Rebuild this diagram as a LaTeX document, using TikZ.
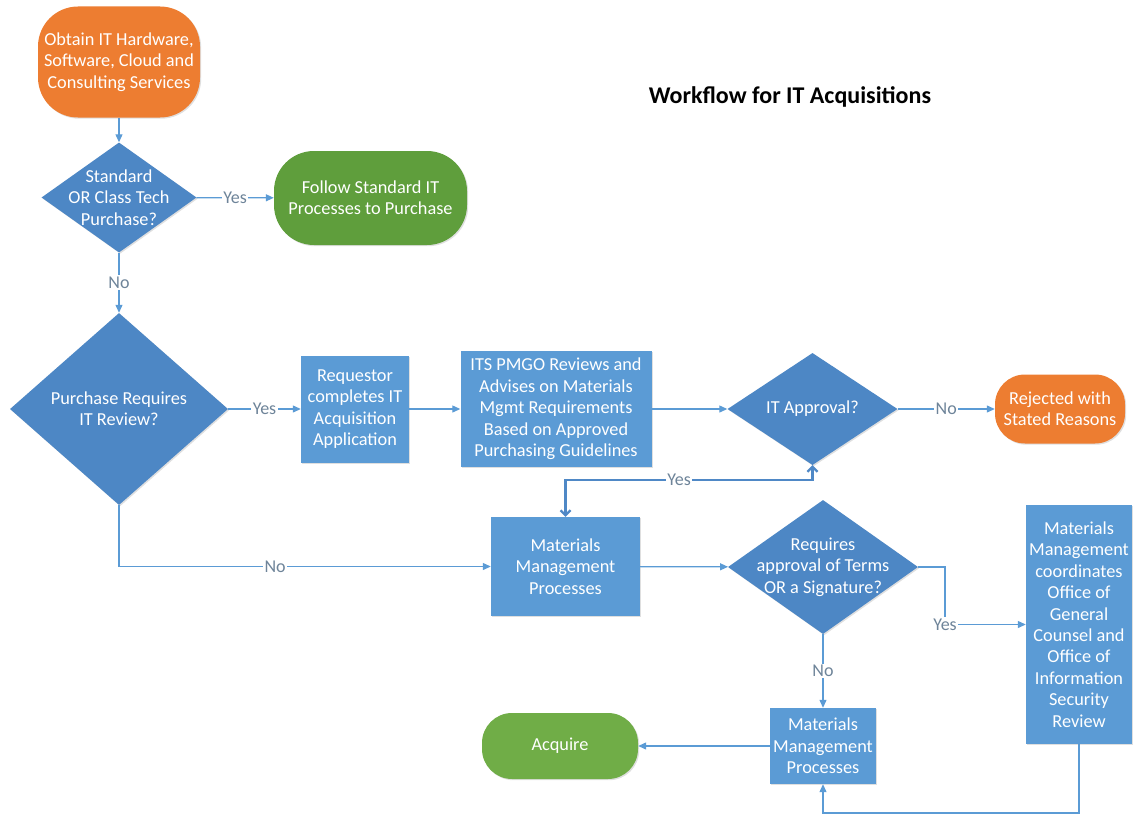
\documentclass[tikz,border=0pt]{standalone}
\usepackage{fontspec}
\setmainfont{Carlito}
\usetikzlibrary{shapes.geometric,arrows.meta,shadows}
\definecolor{termorange}{HTML}{ED7D31}
\definecolor{termgreen}{HTML}{5F9E3C}
\definecolor{acqgreen}{HTML}{70AD47}
\definecolor{boxblue}{HTML}{5B9BD5}
\definecolor{decblue}{HTML}{4D87C5}
\definecolor{lineblue}{HTML}{5B9BD5}
\definecolor{loopblue}{HTML}{4F88C6}
\definecolor{lblgray}{HTML}{6E8499}
\begin{document}
\begin{tikzpicture}[x=1pt,y=-1pt,
    every node/.style={font=\fontsize{18.3}{21.4}\selectfont},
    sz/.style 2 args={minimum width=#1pt,minimum height=#2pt},
    shade/.style={drop shadow={shadow xshift=1.2pt,shadow yshift=-1.2pt,opacity=.25}},
    box/.style={rectangle,fill=boxblue,text=white,align=center,inner sep=0pt,shade},
    term/.style={rectangle,text=white,align=center,inner sep=0pt,shade},
    decision/.style={diamond,fill=decblue,inner sep=0pt,shade},
    dtext/.style={text=white,align=center,inner sep=0pt},
    lbl/.style={fill=white,inner sep=1.5pt,text=lblgray,font=\fontsize{18}{20}\selectfont},
    flow/.style={draw=lineblue,line width=1.2pt,-{Triangle[length=8pt,width=7pt]}},
    yesloop/.style={draw=loopblue,line width=2.2pt,
      {Straight Barb[length=5pt,width=10pt]}-{Straight Barb[length=5pt,width=10pt]}}]
  \useasboundingbox (0,0) rectangle (1133,816);

  \node[font=\bfseries\fontsize{24}{28}\selectfont] (title) at (790,97) {Workflow for IT Acquisitions};

  \node[term,fill=termorange,rounded corners=40pt,sz={162}{111}] (start) at (119,62)
    {Obtain IT Hardware,\\Software, Cloud and\\Consulting Services};
  \node[decision,sz={155}{110}] (std) at (119,197.5) {};
  \node[dtext] (stdt) at (std) {Standard\\OR Class Tech\\Purchase?};
  \node[term,fill=termgreen,rounded corners=40pt,sz={193}{94}] (follow) at (370.5,198)
    {Follow Standard IT\\Processes to Purchase};
  \node[decision,sz={218}{192}] (review) at (119,409) {};
  \node[dtext] (reviewt) at (review) {Purchase Requires\\IT Review?};
  \node[box,sz={108}{107}] (req) at (355,409) {Requestor\\completes IT\\Acquisition\\Application};
  \node[box,sz={191}{116}] (pmgo) at (556,409)
    {ITS PMGO Reviews and\\Advises on Materials\\Mgmt Requirements\\Based on Approved\\Purchasing Guidelines};
  \node[decision,sz={170}{112}] (appr) at (812.5,409) {};
  \node[dtext] (apprt) at (appr) {IT Approval?};
  \node[term,fill=termorange,rounded corners=30pt,sz={130}{69}] (reject) at (1060,409)
    {Rejected with\\Stated Reasons};
  \node[box,sz={149}{99}] (mm) at (565.5,566.5) {Materials\\Management\\Processes};
  \node[decision,sz={190}{134}] (terms) at (823,567) {};
  \node[dtext] (termst) at (terms) {Requires\\approval of Terms\\OR a Signature?};
  \node[box,sz={106}{239}] (ogc) at (1079,624.5)
    {Materials\\Management\\coordinates\\Office of\\General\\Counsel and\\Office of\\Information\\Security\\Review};
  \node[box,sz={106}{76}] (mmb) at (823,746) {Materials\\Management\\Processes};
  \node[term,fill=acqgreen,rounded corners=30pt,sz={156}{66}] (acq) at (560,746) {Acquire};

  \coordinate (yesy) at (0,480);
  \coordinate (ycorner) at (945,624.5);
  \coordinate (bot) at (0,813);

  \draw[flow] (start) -- (std);
  \draw[flow] (std) -- node[lbl]{Yes} (follow);
  \draw[flow] (std) -- node[lbl]{No} (review);
  \draw[flow] (review) -- node[lbl]{Yes} (req);
  \draw[flow] (req) -- (pmgo);
  \draw[flow] (pmgo) -- (appr);
  \draw[flow] (appr) -- node[lbl]{No} (reject);
  \draw[flow] (review.south) |- node[lbl,pos=0.71]{No} (mm.west);
  \draw[yesloop] (appr.south) -- (appr.south |- yesy) -| node[lbl,pos=0.27]{Yes} (mm.north);
  \draw[flow] (mm) -- (terms);
  \draw[flow] (terms.east) -| (ycorner) node[lbl]{Yes} -- (ogc.west);
  \draw[flow] (terms) -- node[lbl]{No} (mmb);
  \draw[flow] (mmb) -- (acq);
  \draw[flow] (ogc.south) -- (ogc.south |- bot) -| (mmb.south);
\end{tikzpicture}
\end{document}
